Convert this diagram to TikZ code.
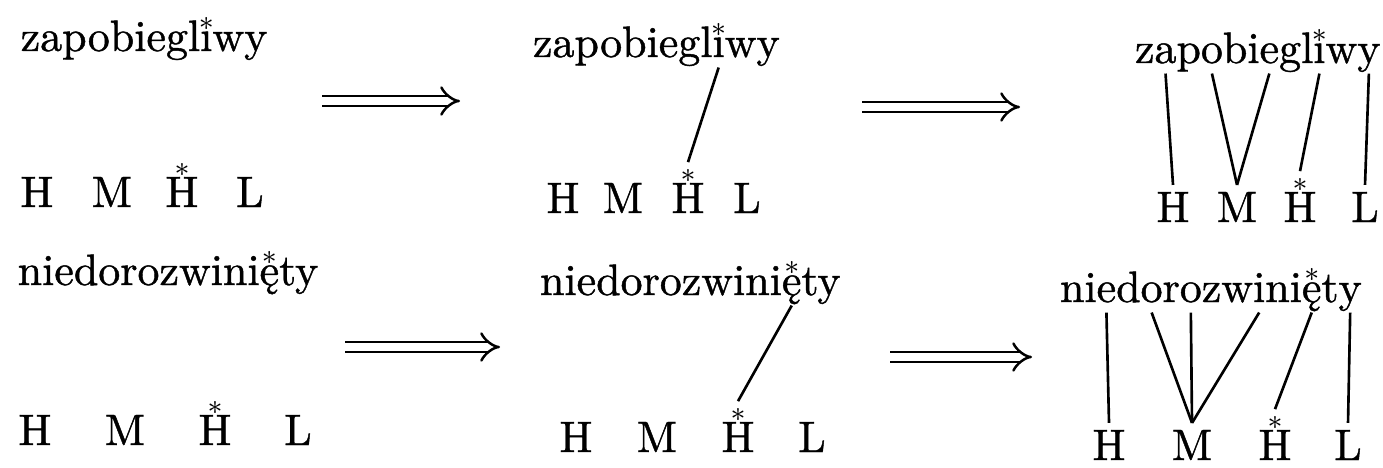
\documentclass[tikz,border=0pt]{standalone}
\usepackage{fontspec}
\setmainfont{lmroman10-regular.otf}[FakeBold=1]
\usetikzlibrary{positioning,arrows.meta}

% star over a tone-bearing letter
\newcommand{\tonestar}[1]{\leavevmode\setbox0\hbox{#1}\rlap{\hbox to\wd0{\hss\raisebox{\dimexpr\ht0+0.2pt\relax}{\footnotesize$\ast$}\hss}}\box0}

\begin{document}
\begin{tikzpicture}[x=0.01cm, y=-0.01cm,
    every node/.style={font=\fontsize{12.5}{15}\selectfont},
    seg/.style={inner sep=0pt, outer sep=0pt, text depth=0.3em},
    tone/.style={inner xsep=0pt, inner ysep=2pt, outer sep=0pt, anchor=base},
    assoc/.style={line width=0.75pt},
    implies/.style={double, double distance=2.2pt, line width=0.7pt, -{Implies}},
]
\useasboundingbox (0,0) rectangle (1383,467);

% ---- zapobiegliwy: no association
\node[anchor=base west, inner sep=0pt] (A1w) at (20,51) {zapobiegl\tonestar{\i}wy};
\node[tone] (A1h) at (37,207) {H};
\node[tone] (A1m) at (112,207) {M};
\node[tone] (A1s) at (182,207) {\tonestar{H}};
\node[tone] (A1l) at (250,207) {L};

\coordinate (A1from) at (322,101);
\coordinate (A1to) at (460,101);
\draw[implies] (A1from) -- (A1to);

% ---- zapobiegliwy: starred tone linked
\node[seg, anchor=base west] (A2a) at (533,57) {zapobiegl};
\node[seg, base right=0pt of A2a] (A2i) {\tonestar{\i}};
\node[seg, base right=0pt of A2i] (A2b) {wy};
\node[tone] (A2h) at (563,213) {H};
\node[tone] (A2m) at (623,213) {M};
\node[tone] (A2s) at (688,213) {\tonestar{H}};
\node[tone] (A2l) at (747,213) {L};
\draw[assoc] (A2i.south) -- (A2s.north);

\coordinate (A2from) at (862,107);
\coordinate (A2to) at (1020,107);
\draw[implies] (A2from) -- (A2to);

% ---- zapobiegliwy: all tones linked
\node[seg, anchor=base west] (A3z) at (1135,63) {z};
\node[seg, base right=0pt of A3z] (A3a) {a};
\node[seg, base right=0pt of A3a] (A3p) {p};
\node[seg, base right=0pt of A3p] (A3o) {o};
\node[seg, base right=0pt of A3o] (A3bi) {bi};
\node[seg, base right=0pt of A3bi] (A3e) {e};
\node[seg, base right=0pt of A3e] (A3gl) {gl};
\node[seg, base right=0pt of A3gl] (A3i) {\tonestar{\i}};
\node[seg, base right=0pt of A3i] (A3w) {w};
\node[seg, base right=0pt of A3w] (A3y) {y};
\node[tone] (A3h) at (1173,222) {H};
\node[tone] (A3m) at (1237,222) {M};
\node[tone] (A3s) at (1300,222) {\tonestar{H}};
\node[tone] (A3l) at (1365,222) {L};
\draw[assoc] (A3a.south) -- (A3h.north);
\draw[assoc] (A3o.south) -- (A3m.north);
\draw[assoc] (A3e.south) -- (A3m.north);
\draw[assoc] (A3i.south) -- (A3s.north);
\draw[assoc] (A3y.south) -- (A3l.north);

% ---- niedorozwiniety: no association
\node[anchor=base west, inner sep=0pt] (B1w) at (17,285) {niedorozwini\tonestar{ę}ty};
\node[tone] (B1h) at (35,445) {H};
\node[tone] (B1m) at (125,445) {M};
\node[tone] (B1s) at (215,445) {\tonestar{H}};
\node[tone] (B1l) at (298,445) {L};

\coordinate (B1from) at (345,347);
\coordinate (B1to) at (500,347);
\draw[implies] (B1from) -- (B1to);

% ---- niedorozwiniety: starred tone linked
\node[seg, anchor=base west] (B2a) at (540,295) {niedorozwini};
\node[seg, base right=0pt of B2a] (B2e) {\tonestar{ę}};
\node[seg, base right=0pt of B2e] (B2b) {ty};
\node[tone] (B2h) at (576,452) {H};
\node[tone] (B2m) at (657,452) {M};
\node[tone] (B2s) at (738,452) {\tonestar{H}};
\node[tone] (B2l) at (812,452) {L};
\draw[assoc] (B2e.south) -- (B2s.north);

\coordinate (B2from) at (890,357);
\coordinate (B2to) at (1032,357);
\draw[implies] (B2from) -- (B2to);

% ---- niedorozwiniety: all tones linked
\node[seg, anchor=base west] (B3ni) at (1060,302) {ni};
\node[seg, base right=0pt of B3ni] (B3e) {e};
\node[seg, base right=0pt of B3e] (B3d) {d};
\node[seg, base right=0pt of B3d] (B3o) {o};
\node[seg, base right=0pt of B3o] (B3r) {r};
\node[seg, base right=0pt of B3r] (B3oo) {o};
\node[seg, base right=0pt of B3oo] (B3zw) {zw};
\node[seg, base right=0pt of B3zw] (B3i) {i};
\node[seg, base right=0pt of B3i] (B3nii) {ni};
\node[seg, base right=0pt of B3nii] (B3ee) {\tonestar{ę}};
\node[seg, base right=0pt of B3ee] (B3t) {t};
\node[seg, base right=0pt of B3t] (B3y) {y};
\node[tone] (B3h) at (1109,460) {H};
\node[tone] (B3m) at (1192,460) {M};
\node[tone] (B3s) at (1275,460) {\tonestar{H}};
\node[tone] (B3l) at (1348,460) {L};
\draw[assoc] (B3e.south) -- (B3h.north);
\draw[assoc] (B3o.south) -- (B3m.north);
\draw[assoc] (B3oo.south) -- (B3m.north);
\draw[assoc] (B3i.south) -- (B3m.north);
\draw[assoc] (B3ee.south) -- (B3s.north);
\draw[assoc] (B3y.south) -- (B3l.north);

\end{tikzpicture}
\end{document}
